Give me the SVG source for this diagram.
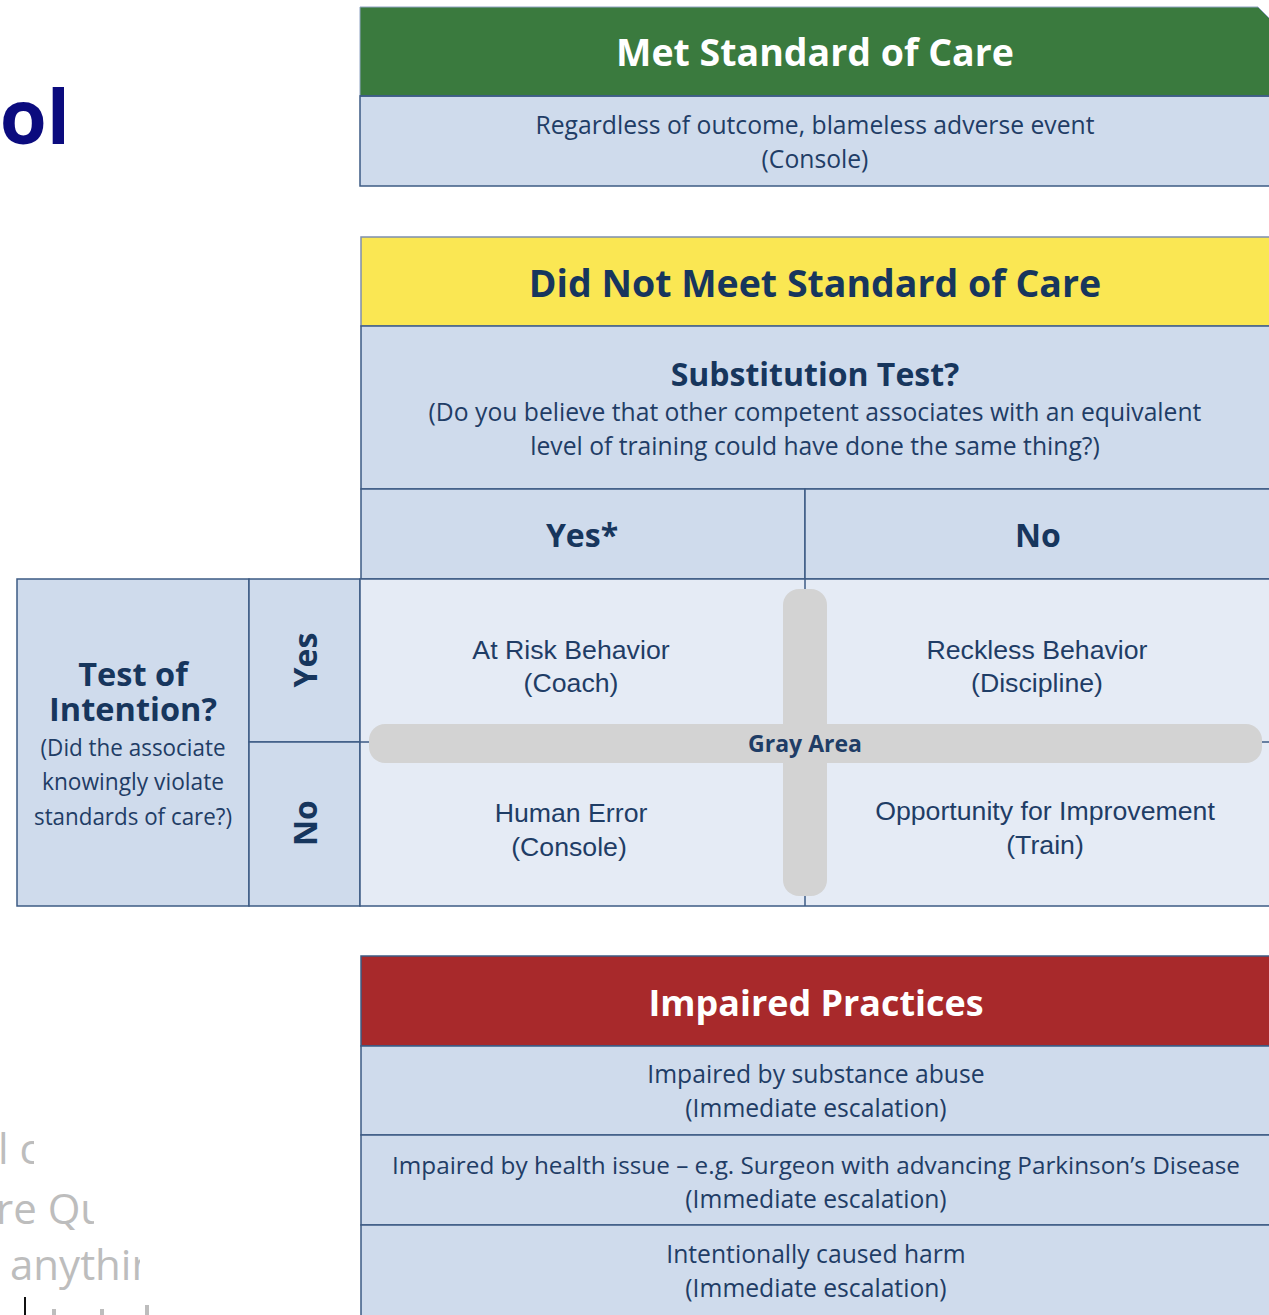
<svg xmlns="http://www.w3.org/2000/svg" width="1269" height="1315" viewBox="0 0 1269 1315">
  <style>
    .cell { fill: #cfdbec; stroke: #3d5b84; stroke-width: 1.5; }
    .soft { fill: #e5ebf5; stroke: #3d5b84; stroke-width: 1.5; }
    .rule { stroke: #3d5b84; stroke-width: 1.5; fill: none; }
    .hdr { font-family: "Open Sans", "DejaVu Sans", sans-serif; font-weight: 700; font-size: 37.5px; text-anchor: middle; }
    .body { font-family: "Open Sans", "DejaVu Sans", sans-serif; font-size: 24.7px; fill: #1f3d66; text-anchor: middle; }
    .note { font-family: "Open Sans", "DejaVu Sans", sans-serif; font-size: 23px; fill: #1f3d66; text-anchor: middle; }
    .q { font-family: "Open Sans", "DejaVu Sans", sans-serif; font-weight: 700; font-size: 32px; fill: #17365d; text-anchor: middle; }
    .mx { font-family: "Liberation Sans", Arial, sans-serif; font-size: 26.7px; fill: #1f3d66; text-anchor: middle; }
    .ghost { font-family: "Open Sans", "DejaVu Sans", sans-serif; font-size: 42px; fill: #bdbdbd; }
    .gray { fill: #d3d3d3; }
  </style>
  <defs>
    <clipPath id="clipA"><rect x="0" y="1128" width="34" height="40"/></clipPath>
    <clipPath id="clipB"><rect x="0" y="1180" width="94" height="50"/></clipPath>
    <clipPath id="clipC"><rect x="0" y="1235" width="140" height="60"/></clipPath>
  </defs>
  <rect width="1269" height="1315" fill="#ffffff"/>

  <!-- page title, running off the left edge -->
  <text x="70" y="144" font-family="Open Sans, DejaVu Sans, sans-serif" font-weight="700" font-size="76" fill="#0b0b7e" text-anchor="end">Tool</text>

  <!-- faded side notes, partly hidden -->
  <g id="side-notes">
    <text class="ghost" x="-2" y="1164" clip-path="url(#clipA)">l c</text>
    <text class="ghost" x="-4" y="1224" clip-path="url(#clipB)">re Qu</text>
    <text class="ghost" x="10" y="1280" clip-path="url(#clipC)">anything</text>
    <line x1="25" y1="1297" x2="25" y2="1315" stroke="#111" stroke-width="2"/>
    <rect x="52" y="1309" width="4" height="6" fill="#bdbdbd"/>
    <rect x="100" y="1309" width="4" height="6" fill="#bdbdbd"/>
    <rect x="145" y="1305" width="4" height="10" fill="#bdbdbd"/>
  </g>

  <!-- Met standard of care -->
  <g id="met-standard">
    <polygon points="360,7 1258,7 1270,19 1270,96 360,96" fill="#3a7a3e" stroke="#8fa3c2" stroke-width="1"/>
    <rect class="cell" x="360" y="96" width="912" height="90"/>
    <line class="rule" x1="360" y1="96" x2="1270" y2="96" stroke="#26466e" stroke-width="2"/>
    <text class="hdr" x="815" y="66" fill="#ffffff">Met Standard of Care</text>
    <text class="body" x="815" y="134">Regardless of outcome, blameless adverse event</text>
    <text class="body" x="815" y="168">(Console)</text>
  </g>

  <!-- Did not meet standard of care -->
  <g id="not-met-standard">
    <rect x="361" y="237" width="911" height="89" fill="#fae753" stroke="#7d8fae" stroke-width="1.5"/>
    <text class="hdr" x="815" y="297" fill="#17365d">Did Not Meet Standard of Care</text>
  </g>

  <g id="substitution-test">
    <rect class="cell" x="361" y="326" width="911" height="163"/>
    <text class="q" x="815" y="386">Substitution Test?</text>
    <text class="body" x="815" y="421">(Do you believe that other competent associates with an equivalent</text>
    <text class="body" x="815" y="455">level of training could have done the same thing?)</text>
  </g>

  <g id="substitution-yes">
    <rect class="cell" x="361" y="489" width="444" height="90"/>
    <text class="q" x="582" y="547">Yes*</text>
  </g>
  <g id="substitution-no">
    <rect class="cell" x="805" y="489" width="467" height="90"/>
    <text class="q" x="1038" y="547">No</text>
  </g>

  <!-- Test of intention -->
  <g id="intention-test">
    <rect class="cell" x="17" y="579" width="232" height="327"/>
    <text class="q" x="133" y="686" style="font-size:32.5px">Test of</text>
    <text class="q" x="133" y="721" style="font-size:32.5px">Intention?</text>
    <text class="note" x="133" y="756" textLength="185" lengthAdjust="spacingAndGlyphs">(Did the associate</text>
    <text class="note" x="133" y="790" textLength="182" lengthAdjust="spacingAndGlyphs">knowingly violate</text>
    <text class="note" x="133" y="825" textLength="198" lengthAdjust="spacingAndGlyphs">standards of care?)</text>
  </g>
  <g id="intention-yes">
    <rect class="cell" x="249" y="579" width="111" height="163"/>
    <text class="q" transform="translate(317,660) rotate(-90)">Yes</text>
  </g>
  <g id="intention-no">
    <rect class="cell" x="249" y="742" width="111" height="164"/>
    <text class="q" transform="translate(317,823) rotate(-90)">No</text>
  </g>

  <!-- outcome matrix -->
  <g id="matrix">
    <rect class="soft" x="360" y="579" width="912" height="327"/>
    <line class="rule" x1="360" y1="742" x2="1270" y2="742"/>
    <line class="rule" x1="805" y1="579" x2="805" y2="906"/>
  </g>

  <g id="gray-area">
    <rect class="gray" x="783" y="589" width="44" height="307" rx="16"/>
    <rect class="gray" x="369" y="724" width="893" height="39" rx="16"/>
    <text x="805" y="752" font-family="Open Sans, DejaVu Sans, sans-serif" font-weight="700" font-size="23" fill="#1f3d66" text-anchor="middle">Gray Area</text>
  </g>

  <g id="at-risk">
    <text class="mx" x="571" y="659">At Risk Behavior</text>
    <text class="mx" x="571" y="692">(Coach)</text>
  </g>
  <g id="reckless">
    <text class="mx" x="1037" y="659">Reckless Behavior</text>
    <text class="mx" x="1037" y="692">(Discipline)</text>
  </g>
  <g id="human-error">
    <text class="mx" x="571" y="822">Human Error</text>
    <text class="mx" x="569" y="856">(Console)</text>
  </g>
  <g id="improvement">
    <text class="mx" x="1045" y="820">Opportunity for Improvement</text>
    <text class="mx" x="1045" y="854">(Train)</text>
  </g>

  <!-- Impaired practices -->
  <g id="impaired">
    <rect x="361" y="956" width="911" height="90" fill="#a8292b" stroke="#3d5b84" stroke-width="1.5"/>
    <text class="hdr" x="816" y="1016" fill="#ffffff" style="font-size:35.9px">Impaired Practices</text>
  </g>
  <g id="impaired-substance">
    <rect class="cell" x="361" y="1046" width="911" height="89"/>
    <text class="body" x="816" y="1083">Impaired by substance abuse</text>
    <text class="body" x="816" y="1117">(Immediate escalation)</text>
  </g>
  <g id="impaired-health">
    <rect class="cell" x="361" y="1135" width="911" height="90"/>
    <text class="body" x="816" y="1174" style="font-size:24.3px">Impaired by health issue – e.g. Surgeon with advancing Parkinson’s Disease</text>
    <text class="body" x="816" y="1208">(Immediate escalation)</text>
  </g>
  <g id="intentional-harm">
    <rect class="cell" x="361" y="1225" width="911" height="92"/>
    <text class="body" x="816" y="1263">Intentionally caused harm</text>
    <text class="body" x="816" y="1297">(Immediate escalation)</text>
  </g>
</svg>
